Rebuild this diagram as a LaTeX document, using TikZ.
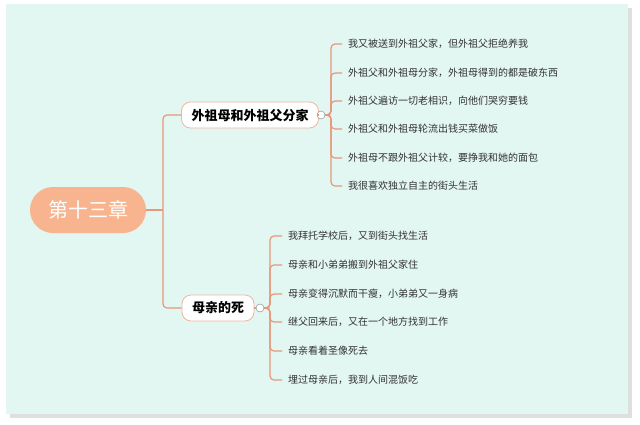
\documentclass[tikz,border=0pt]{standalone}
\usepackage{fontspec}
\setmainfont{Noto Sans CJK SC}
\definecolor{bgc}{HTML}{E2F6F2}
\definecolor{linec}{HTML}{E8977A}
\definecolor{rootc}{HTML}{F7B48E}
\definecolor{txt}{HTML}{333333}
\begin{document}
\begin{tikzpicture}[x=1pt,y=-1pt,
  conn/.style={draw=linec,line width=1.2pt,rounded corners=4pt},
  rootbox/.style={fill=rootc,rounded corners=23pt,minimum width=116pt,minimum height=46pt,text=white,font=\fontsize{20}{22}\selectfont},
  midbox/.style={draw=linec!70,fill=white,line width=0.8pt,rounded corners=9pt,minimum height=26pt,inner xsep=10pt,font=\fontsize{13}{15}\selectfont\bfseries,text=black},
  leaf/.style={anchor=west,inner sep=0pt,font=\fontsize{10}{12}\selectfont,text=txt},
  tog/.style={circle,draw=gray,fill=white,inner sep=0pt,minimum size=8pt}]
\useasboundingbox (0,0) rectangle (640,424);
\fill[gray!25] (10,8) rectangle (632,418);
\fill[bgc] (6,4) rectangle (628,414);
\node[rootbox] (root) at (88,210) {第十三章};
\node[midbox] (b1) at (250,115) {外祖母和外祖父分家};
\node[midbox] (b2) at (218,308) {母亲的死};
\coordinate (j) at (163,210);
\draw[conn] (root.east) -- (j);
\draw[conn] (b1.west) -| (j) |- (b2.west);
\node[tog] (t1) at (321,115) {};
\node[tog] (t2) at (260,308) {};
\draw[conn] (b1.east) -- (t1.west);
\draw[conn] (b2.east) -- (t2.west);
\foreach \i/\y/\t in {1/44/我又被送到外祖父家，但外祖父拒绝养我,2/73/外祖父和外祖母分家，外祖母得到的都是破东西,3/101/外祖父遍访一切老相识，向他们哭穷要钱,4/129/外祖父和外祖母轮流出钱买菜做饭,5/158/外祖母不跟外祖父计较，要挣我和她的面包,6/186/我很喜欢独立自主的街头生活}{
  \node[leaf] (a\i) at (348,\y) {\t};
  \draw[conn] (t1.east) -- (331,115) |- ([xshift=-6pt]a\i.west);
}
\foreach \i/\y/\t in {1/236/我拜托学校后，又到街头找生活,2/265/母亲和小弟弟搬到外祖父家住,3/294/母亲变得沉默而干瘦，小弟弟又一身病,4/322/继父回来后，又在一个地方找到工作,5/351/母亲看着圣像死去,6/380/埋过母亲后，我到人间混饭吃}{
  \node[leaf] (c\i) at (288,\y) {\t};
  \draw[conn] (t2.east) -- (270,308) |- ([xshift=-6pt]c\i.west);
}
\end{tikzpicture}
\end{document}
